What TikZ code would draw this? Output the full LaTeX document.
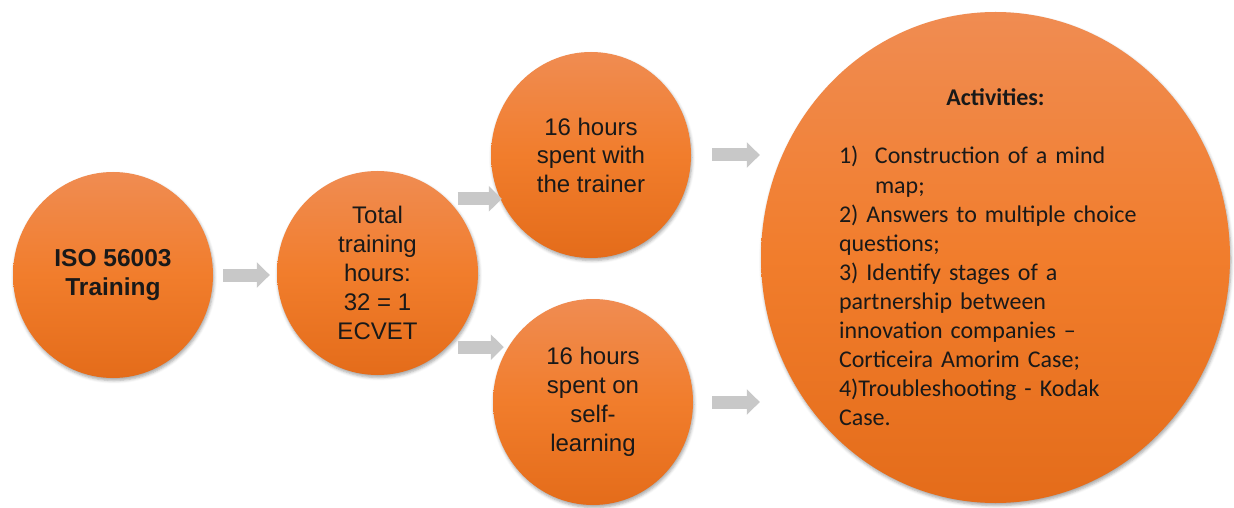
\documentclass[tikz,border=0pt]{standalone}
\usepackage{fontspec}
\setmainfont{Liberation Sans}
\newfontfamily\calibri{Carlito}
\usetikzlibrary{shapes.geometric,arrows.meta,shadows.blur}
\definecolor{orTop}{RGB}{240,140,82}
\definecolor{orBot}{RGB}{228,108,26}
\definecolor{orMid}{RGB}{241,125,44}
\definecolor{arrGray}{RGB}{200,200,200}
\definecolor{txt}{RGB}{25,25,25}
\tikzset{
  bubble/.style={ellipse, inner sep=0pt, top color=orTop, bottom color=orBot, middle color=orMid,
    draw=none, text=txt, align=center,
    blur shadow={shadow xshift=1pt, shadow yshift=-2.5pt, shadow blur radius=3pt, shadow opacity=35}},
  blockarrow/.style={draw=arrGray, line width=13pt, -{Triangle[length=13pt,width=25pt]}, arrGray},
  armfont/.style={font=\fontsize{24}{29}\selectfont},
}
\begin{document}
\begin{tikzpicture}[x=1pt,y=1pt]
\useasboundingbox (0,0) rectangle (1234,507);
% bubbles
\node[bubble, minimum width=200pt, minimum height=206pt,
      font=\fontsize{24.5}{29}\selectfont\bfseries] (c1) at (113,232) {ISO 56003\\Training};
\node[bubble, minimum width=201pt, minimum height=204pt, armfont] (c2) at (377.5,234)
      {Total\\training\\hours:\\32 = 1\\ECVET};
\node[bubble, minimum width=200pt, minimum height=206pt,
      font=\fontsize{24}{28.5}\selectfont] (c3) at (591,352)
      {16 hours\\spent with\\the trainer};
\node[bubble, minimum width=200pt, minimum height=206pt, armfont] (c4) at (593,105)
      {16 hours\\spent on\\self-\\learning};
\node[bubble, minimum width=469pt, minimum height=491pt, align=left, text width=313pt,
      font=\calibri\fontsize{24}{29.1}\selectfont] (c5) at (995.5,249.5)
      {\makebox[313pt]{\bfseries Activities:}\\[29.1pt]
       \makebox[36pt][l]{1)}Construction of a mind\\
       \hspace*{36pt}map;\\
       2) Answers to multiple choice\\
       questions;\\
       3) Identify stages of a\\
       partnership between\\
       innovation companies –\\
       Corticeira Amorim Case;\\
       4)Troubleshooting - Kodak\\
       Case.};
% arrows
\draw[blockarrow] ([xshift=10pt]c1.east) -- ([xshift=-7pt]c2.west |- c1.east);
\coordinate (a2s) at ([xshift=11pt]c2.47);
\coordinate (a3s) at ([xshift=11pt]c2.-47);
\draw[blockarrow] (a2s) -- ([xshift=11pt]a2s -| c3.west);
\draw[blockarrow] (a3s) -- ([xshift=11pt]a3s -| c4.west);
\draw[blockarrow] ([xshift=21pt]c3.east) -- ([xshift=-1pt]c3.east -| c5.west);
\draw[blockarrow] ([xshift=19pt]c4.east) -- ([xshift=-1pt]c4.east -| c5.west);
\end{tikzpicture}
\end{document}
